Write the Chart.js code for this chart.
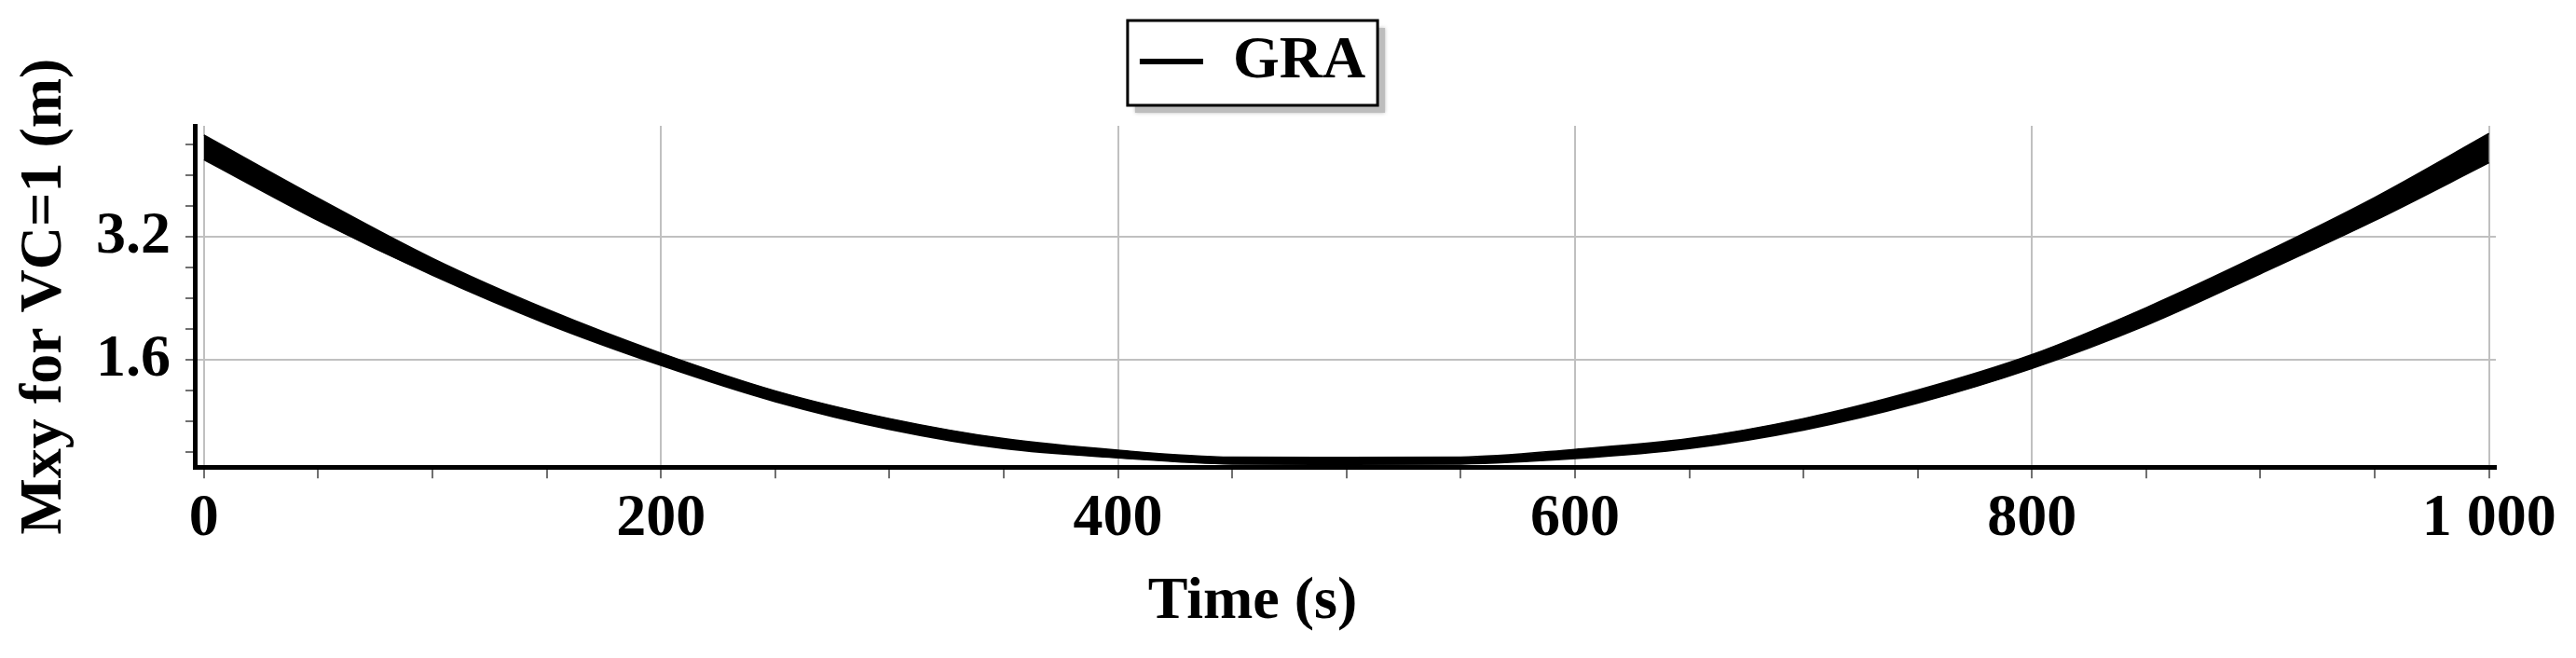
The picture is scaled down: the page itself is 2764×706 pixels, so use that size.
<!DOCTYPE html>
<html>
<head>
<meta charset="utf-8">
<title>Mxy for VC=1</title>
<script src="https://cdn.jsdelivr.net/npm/chart.js@4/dist/chart.umd.min.js"></script>
<style>
  html, body { margin: 0; padding: 0; background: #fff; }
  #wrap { width: 2764px; height: 706px; }
</style>
</head>
<body>
<div id="wrap"><canvas id="myChart"></canvas></div>
<script>
// time samples (s) and the upper / lower edge of the GRA band
const times = [0, 50, 100, 150, 200, 250, 300, 350, 400, 450, 500,
  550, 600, 650, 700, 750, 800, 850, 900, 950, 1000];
const graUpper = [4.52, 3.70, 2.92, 2.26, 1.69, 1.20, 0.84, 0.58, 0.43, 0.34, 0.335,
  0.34, 0.44, 0.58, 0.84, 1.21, 1.67, 2.28, 2.97, 3.71, 4.54];
const graLower = [4.20, 3.41, 2.70, 2.07, 1.53, 1.06, 0.70, 0.45, 0.33, 0.25, 0.245,
  0.25, 0.32, 0.45, 0.69, 1.04, 1.49, 2.05, 2.72, 3.41, 4.16];

// labelled ticks
const xTickValues = [0, 200, 400, 600, 800, 1000];
const xTickLabels = ["0", "200", "400", "600", "800", "1 000"];
const yTickValues = [1.6, 3.2];
const yTickLabels = ["1.6", "3.2"];

const serif = "'Liberation Serif', 'Times New Roman', serif";
Chart.defaults.font.family = serif;
Chart.defaults.font.size = 64;
Chart.defaults.font.weight = "bold";
Chart.defaults.color = "#000";

function labelIndex(values, v) {
  return values.findIndex(t => Math.abs(t - v) < 1e-6);
}

// legend frame with drop shadow, and extra room under the legend
const legendFrame = {
  id: "legendFrame",
  beforeLayout(chart) {
    const lg = chart.legend;
    if (lg && !lg._gapPatched) {
      const fit = lg.fit;
      lg.fit = function () {
        fit.call(this);
        this.height += 27;
      };
      lg._gapPatched = true;
    }
  },
  beforeDraw(chart) {
    const hb = chart.legend && chart.legend.legendHitBoxes[0];
    if (!hb) return;
    const ctx = chart.ctx;
    const x = hb.left - 13, y = hb.top - 12;
    const w = hb.width + 26, h = hb.height + 27;
    ctx.save();
    ctx.fillStyle = "#bdbdbd";
    ctx.shadowColor = "#bdbdbd";
    ctx.shadowBlur = 4;
    ctx.fillRect(x + 8, y + 8, w, h);
    ctx.shadowBlur = 0;
    ctx.fillStyle = "#fff";
    ctx.fillRect(x, y, w, h);
    ctx.strokeStyle = "#000";
    ctx.lineWidth = 3;
    ctx.strokeRect(x, y, w, h);
    ctx.restore();
  }
};

const ctx = document.getElementById("myChart").getContext("2d");

const myChart = new Chart(ctx, {
  type: "line",
  data: {
    datasets: [
      {
        label: "GRA",
        data: times.map((t, i) => ({ x: t, y: graUpper[i] })),
        borderColor: "#000",
        backgroundColor: "#000",
        borderWidth: 1.5,
        pointRadius: 0,
        cubicInterpolationMode: "monotone",
        fill: "+1"
      },
      {
        label: "GRA lower",
        data: times.map((t, i) => ({ x: t, y: graLower[i] })),
        borderColor: "#000",
        backgroundColor: "#000",
        borderWidth: 1.5,
        pointRadius: 0,
        cubicInterpolationMode: "monotone",
        fill: false
      }
    ]
  },
  options: {
    responsive: true,
    maintainAspectRatio: false,
    devicePixelRatio: 1,
    animation: false,
    layout: {
      padding: { left: 10, right: 86, top: 24, bottom: 21 }
    },
    plugins: {
      tooltip: { enabled: false },
      legend: {
        position: "top",
        labels: {
          padding: 10,
          boxWidth: 68,
          boxHeight: 6,
          filter: item => item.datasetIndex === 0,
          generateLabels: chart => [{
            text: "GRA",
            fillStyle: "#000",
            strokeStyle: "#000",
            lineWidth: 0,
            datasetIndex: 0,
            fontColor: "#000"
          }]
        }
      },
      title: {
        display: true,
        position: "bottom",
        text: "Time (s)",
        color: "#000",
        font: { size: 64, weight: "bold", family: serif },
        padding: { top: 12, bottom: 0 }
      }
    },
    scales: {
      x: {
        type: "linear",
        min: -4,
        max: 1003,
        afterFit: s => { s.height = 95; },
        border: { display: true, color: "#000", width: 5 },
        grid: {
          color: c => (labelIndex(xTickValues, c.tick.value) >= 0 ? "#c0c0c0" : "rgba(0,0,0,0)"),
          lineWidth: 2,
          tickColor: "#707070",
          tickWidth: 2,
          tickLength: 12
        },
        ticks: {
          stepSize: 50,
          includeBounds: false,
          autoSkip: false,
          maxRotation: 0,
          minRotation: 0,
          padding: 6,
          callback: v => {
            const i = labelIndex(xTickValues, v);
            return i >= 0 ? xTickLabels[i] : "";
          }
        }
      },
      y: {
        min: 0.21,
        max: 4.64,
        afterFit: s => { s.width = 199; },
        border: { display: true, color: "#000", width: 5 },
        grid: {
          color: c => (labelIndex(yTickValues, c.tick.value) >= 0 ? "#c0c0c0" : "rgba(0,0,0,0)"),
          lineWidth: 2,
          tickColor: "#707070",
          tickWidth: 2,
          tickLength: 10
        },
        ticks: {
          stepSize: 0.4,
          includeBounds: false,
          autoSkip: false,
          padding: 16,
          callback: v => {
            const i = labelIndex(yTickValues, v);
            return i >= 0 ? yTickLabels[i] : "";
          }
        },
        title: {
          display: true,
          text: "Mxy for VC=1 (m)",
          color: "#000",
          font: { size: 64, weight: "bold", family: serif },
          padding: { top: 0, bottom: 0 }
        }
      }
    }
  },
  plugins: [legendFrame]
});
</script>
</body>
</html>
